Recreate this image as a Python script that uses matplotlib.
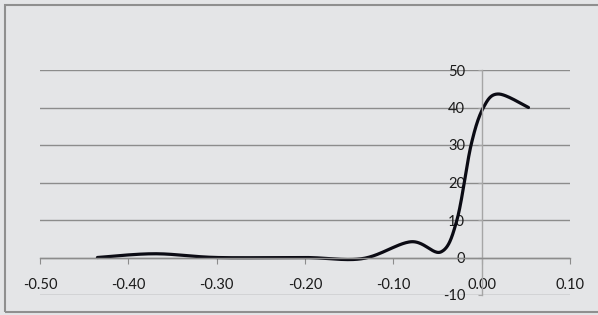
import numpy as np
import matplotlib
matplotlib.use("Agg")
import matplotlib.pyplot as plt
from matplotlib.patches import Rectangle

# data points (Excel smoothed scatter)
x_pts = [-0.435, -0.37, -0.30, -0.20, -0.135, -0.08, -0.046, -0.028, -0.012, 0.002, 0.019, 0.053]
y_pts = [0.0, 1.0, 0.0, 0.0, -0.3, 4.2, 1.5, 10.0, 30.0, 40.0, 43.6, 40.0]

x_ticks = [-0.50, -0.40, -0.30, -0.20, -0.10, 0.00, 0.10]
y_ticks = [-10, 0, 10, 20, 30, 40, 50]


def smooth(xs, ys, n=40):
    #excel style smoothing: bezier through points, tangents from neighbours
    xs = np.asarray(xs, float)
    ys = np.asarray(ys, float)
    px = np.concatenate([[xs[0]], xs, [xs[-1]]])
    py = np.concatenate([[ys[0]], ys, [ys[-1]]])
    out_x, out_y = [], []
    t = np.linspace(0, 1, n)
    for i in range(1, len(px) - 2):
        p0 = np.array([px[i], py[i]])
        p3 = np.array([px[i + 1], py[i + 1]])
        p1 = p0 + (np.array([px[i + 1], py[i + 1]]) - np.array([px[i - 1], py[i - 1]])) / 6
        p2 = p3 - (np.array([px[i + 2], py[i + 2]]) - np.array([px[i], py[i]])) / 6
        b = ((1 - t) ** 3)[:, None] * p0 + (3 * (1 - t) ** 2 * t)[:, None] * p1 \
            + (3 * (1 - t) * t ** 2)[:, None] * p2 + (t ** 3)[:, None] * p3
        out_x.extend(b[:, 0])
        out_y.extend(b[:, 1])
    return out_x, out_y


bg = "#e4e5e7"
fig = plt.figure(figsize=(5.98, 3.15), dpi=100)
fig.patch.set_facecolor(bg)

#chart border (right edge is cut off in the reference)
fig.patches.append(Rectangle((4.5 / 598, 3 / 315), 1.0, 1 - 7.5 / 315,
                             transform=fig.transFigure, fill=False,
                             edgecolor="#8f8f8f", linewidth=1.5))

ax = fig.add_axes([40 / 598, (315 - 295) / 315, 530 / 598, 225 / 315])
ax.set_facecolor(bg)
ax.set_xlim(-0.50, 0.10)
ax.set_ylim(-10, 50)

for s in ["top", "right"]:
    ax.spines[s].set_visible(False)
ax.spines["left"].set_position(("data", 0))
ax.spines["bottom"].set_position(("data", 0))
ax.spines["left"].set_color("#a6a6a6")
ax.spines["bottom"].set_color("#8c8c8c")
ax.spines["left"].set_linewidth(1)
ax.spines["bottom"].set_linewidth(1)

ax.set_xticks(x_ticks)
ax.set_xticklabels(["%.2f" % v for v in x_ticks])
ax.set_yticks(y_ticks)
ax.set_yticklabels([str(v) for v in y_ticks])
ax.yaxis.grid(True, color="#8c8c8c", linewidth=1)
ax.set_axisbelow(True)

ax.tick_params(axis="x", direction="out", length=4, color="#8c8c8c",
               pad=11, labelsize=10.5, labelcolor="#1a1a1a")
ax.tick_params(axis="y", direction="out", length=3, color="#a6a6a6",
               pad=9, labelsize=10.5, labelcolor="#1a1a1a")
for lab in ax.get_xticklabels() + ax.get_yticklabels():
    lab.set_family("Lato")

sx, sy = smooth(x_pts, y_pts)
ax.plot(sx, sy, color="#0b0b14", linewidth=2.3, solid_capstyle="round", clip_on=False)

fig.savefig("out.png", dpi=100, facecolor=bg)
